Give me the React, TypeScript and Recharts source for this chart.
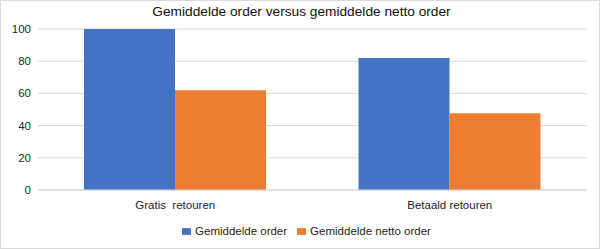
import React from 'react';
import { BarChart, Bar, XAxis, YAxis, CartesianGrid, Legend } from 'recharts';

const categories = ['Gratis  retouren', 'Betaald retouren'];
const gemiddeldeOrder = [100, 82];
const gemiddeldeNettoOrder = [62, 47.6];
const yTicks = [0, 20, 40, 60, 80, 100];
const seriesOrder = ['order', 'netto'];

const data = categories.map((name, i) => ({
  name,
  order: gemiddeldeOrder[i],
  netto: gemiddeldeNettoOrder[i],
}));

const font = '"Liberation Sans", Arial, sans-serif';

const CatTick = (props: any) => {
  const { x, y, payload } = props;
  return (
    <text x={x} y={y + 11} textAnchor="middle" fill="#262626" fontSize={11.5} fontFamily={font} style={{ whiteSpace: 'pre' }}>
      {payload.value}
    </text>
  );
};

export default function App() {
  return (
    <div style={{ position: 'absolute', left: 0, top: 0, width: 600, height: 249, border: '1px solid #d9d9d9', boxSizing: 'border-box', background: '#fff' }}>
      <div style={{ position: 'absolute', left: 0, top: 3, width: 601, textAlign: 'center', fontFamily: font, fontSize: 13.7, color: '#111' }}>
        Gemiddelde order versus gemiddelde netto order
      </div>
      <div style={{ position: 'absolute', left: -1, top: -1 }}>
        <BarChart width={600} height={249} data={data} margin={{ top: 29, right: 13, bottom: 12, left: 0 }} barCategoryGap={46} barGap={0}>
          <CartesianGrid vertical={false} stroke="#d9d9d9" />
          <XAxis dataKey="name" stroke="#d9d9d9" tickLine={false} height={35} tick={<CatTick />} interval={0} />
          <YAxis domain={[0, 100]} ticks={yTicks} width={38} axisLine={false} tickLine={false} tickSize={0} tickMargin={7}
            tick={{ fill: '#262626', fontSize: 11.5, fontFamily: font }} />
          <Legend iconType="rect" iconSize={9} wrapperStyle={{ fontFamily: font, fontSize: 11.5, color: '#262626', paddingLeft: 18 }}
            itemSorter={(item: any) => seriesOrder.indexOf(item.dataKey)}
            formatter={(v: string) => <span style={{ color: '#262626' }}>{v}</span>} />
          <Bar dataKey="order" name="Gemiddelde order" fill="#4472C4" isAnimationActive={false} />
          <Bar dataKey="netto" name="Gemiddelde netto order" fill="#ED7D31" isAnimationActive={false} />
        </BarChart>
      </div>
    </div>
  );
}
